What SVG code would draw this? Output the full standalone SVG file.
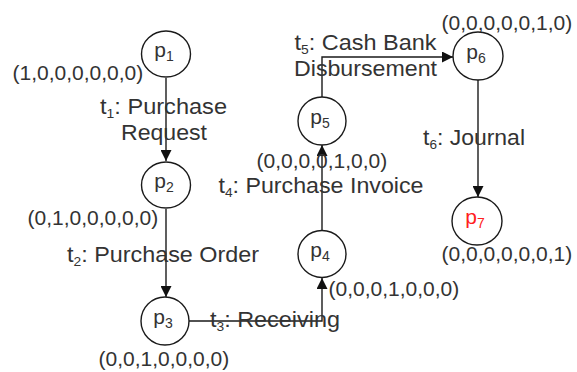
<svg xmlns="http://www.w3.org/2000/svg" width="577" height="372" viewBox="0 0 577 372">
<style>
.bg{fill:#ffffff}
.place{fill:#ffffff;stroke:#1a1a1a;stroke-width:1.4}
.lbl{font-family:"Liberation Sans",Arial,sans-serif;font-size:21px;fill:#333333}
.tl{font-size:22px}
.pl{font-family:"Liberation Sans",Arial,sans-serif;font-size:21px;fill:#333333;text-anchor:middle}
.red{fill:#ff2020}
.conn{fill:none;stroke:#1a1a1a;stroke-width:1.4}
</style>
<defs>
<marker id="arr" viewBox="0 0 10 10" refX="10" refY="5" markerWidth="11" markerHeight="11" markerUnits="userSpaceOnUse" orient="auto">
<path d="M0,0 L10,5 L0,10 Z" fill="#111111"/>
</marker>
</defs>
<rect class="bg" x="0" y="0" width="577" height="372"/>
<g id="connectors">
<path class="conn" d="M166,78 L166,161" marker-end="url(#arr)"/>
<path class="conn" d="M166,209 L166,297" marker-end="url(#arr)"/>
<path class="conn" d="M189,321 L322,321 L322,278" marker-end="url(#arr)"/>
<path class="conn" d="M322,230 L322,145" marker-end="url(#arr)"/>
<path class="conn" d="M322,97 L322,57 L453,57" marker-end="url(#arr)"/>
<path class="conn" d="M478,80 L478,197" marker-end="url(#arr)"/>
</g>
<g id="p1">
<ellipse class="place" cx="166" cy="54" rx="24.5" ry="23"/>
<text class="pl" x="164" y="57">p<tspan font-size="14" dy="4">1</tspan></text>
<text class="lbl" x="12.5" y="80">(1,0,0,0,0,0,0)</text>
</g>
<g id="p2">
<ellipse class="place" cx="166" cy="185" rx="24.5" ry="23"/>
<text class="pl" x="164" y="188">p<tspan font-size="14" dy="4">2</tspan></text>
<text class="lbl" x="27.5" y="225">(0,1,0,0,0,0,0)</text>
</g>
<g id="p3">
<ellipse class="place" cx="165" cy="321" rx="24" ry="24"/>
<text class="pl" x="163" y="324">p<tspan font-size="14" dy="4">3</tspan></text>
<text class="lbl" x="98.5" y="366">(0,0,1,0,0,0,0)</text>
</g>
<g id="p4">
<ellipse class="place" cx="322" cy="254" rx="24" ry="23.5"/>
<text class="pl" x="320" y="257">p<tspan font-size="14" dy="4">4</tspan></text>
<text class="lbl" x="328.5" y="296">(0,0,0,1,0,0,0)</text>
</g>
<g id="p5">
<ellipse class="place" cx="322" cy="121" rx="24" ry="24"/>
<text class="pl" x="320" y="124">p<tspan font-size="14" dy="4">5</tspan></text>
<text class="lbl" x="256.5" y="168">(0,0,0,0,1,0,0)</text>
</g>
<g id="p6">
<ellipse class="place" cx="478" cy="56" rx="25" ry="24"/>
<text class="pl" x="476" y="59">p<tspan font-size="14" dy="4">6</tspan></text>
<text class="lbl" x="441.5" y="30">(0,0,0,0,0,1,0)</text>
</g>
<g id="p7">
<ellipse class="place" cx="477" cy="221" rx="25" ry="24"/>
<text class="pl red" x="475" y="224">p<tspan font-size="14" dy="4">7</tspan></text>
<text class="lbl" x="441.5" y="261">(0,0,0,0,0,0,1)</text>
</g>
<g id="transitions">
<text class="lbl tl" x="100" y="114" textLength="127" lengthAdjust="spacingAndGlyphs">t<tspan font-size="13" dy="4">1</tspan><tspan dy="-4">: Purchase</tspan></text>
<text class="lbl tl" x="121" y="140" textLength="86" lengthAdjust="spacingAndGlyphs">Request</text>
<text class="lbl tl" x="67" y="262" textLength="192" lengthAdjust="spacingAndGlyphs">t<tspan font-size="13" dy="4">2</tspan><tspan dy="-4">: Purchase Order</tspan></text>
<text class="lbl tl" x="210" y="327" textLength="130" lengthAdjust="spacingAndGlyphs">t<tspan font-size="13" dy="4">3</tspan><tspan dy="-4">: Receiving</tspan></text>
<text class="lbl tl" x="218.5" y="193" textLength="205" lengthAdjust="spacingAndGlyphs">t<tspan font-size="13" dy="4">4</tspan><tspan dy="-4">: Purchase Invoice</tspan></text>
<text class="lbl tl" x="294.5" y="50" textLength="142" lengthAdjust="spacingAndGlyphs">t<tspan font-size="13" dy="4">5</tspan><tspan dy="-4">: Cash Bank</tspan></text>
<text class="lbl tl" x="294" y="76" textLength="143" lengthAdjust="spacingAndGlyphs">Disbursement</text>
<text class="lbl tl" x="423" y="145" textLength="102" lengthAdjust="spacingAndGlyphs">t<tspan font-size="13" dy="4">6</tspan><tspan dy="-4">: Journal</tspan></text>
</g>
</svg>
